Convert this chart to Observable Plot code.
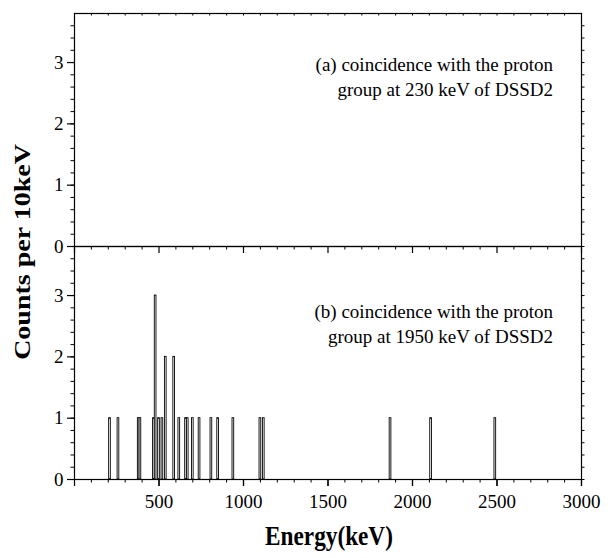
<!DOCTYPE html>
<html>
<head>
<meta charset="utf-8">
<script src="https://cdn.jsdelivr.net/npm/d3@7"></script>
<script src="https://cdn.jsdelivr.net/npm/@observablehq/plot@0.6"></script>
<style>
  html, body { margin: 0; padding: 0; background: white; }
  #wrap { position: relative; width: 613px; height: 558px; overflow: hidden; }
  #wrap svg, #wrap svg text { font-family: "Liberation Serif", "Times New Roman", serif !important; }
  .lab { position: absolute; font-family: "Liberation Serif", serif; font-weight: bold; font-size: 28px; line-height: 28px; white-space: nowrap; color: black; }
</style>
</head>
<body>
<div id="wrap"></div>
<script>
// Panel (b): histogram bins (bin centres, keV) and counts per 10 keV
const energies = [210, 260, 380, 390, 470, 480, 500, 520, 540, 590, 620, 660, 670, 700, 740, 810, 850, 940, 1100, 1120, 1870, 2110, 2490];
const counts   = [1,   1,   1,   1,   1,   3,   1,   1,   2,   2,   1,   1,   1,   1,   1,   1,   1,   1,   1,    1,    1,    1,    1];
// Panel (a): no counts
const energiesA = [];
const countsA = [];

const panels = ["a", "b"];
const panelLabels = [
  "(a) coincidence with the proton\ngroup at 230 keV of DSSD2",
  "(b) coincidence with the proton\ngroup at 1950 keV of DSSD2"
];
const xMajor = [500, 1000, 1500, 2000, 2500, 3000];
const xMajorAll = [0, 500, 1000, 1500, 2000, 2500, 3000];
const xMinor = d3.range(1, 30).map(i => i * 100).filter(v => v % 500 !== 0);
const yMajor = [0, 1, 2, 3];
const yMinor = d3.range(0, 19).map(i => i / 5);
const binWidth = 10;
const FONT = "Liberation Serif";

const bars = [
  ...energiesA.map((e, i) => ({energy: e, count: countsA[i], panel: "a"})),
  ...energies.map((e, i) => ({energy: e, count: counts[i], panel: "b"}))
];

const fmt = d => String(d);

const chart = Plot.plot({
  width: 613,
  height: 558,
  marginLeft: 74,
  marginRight: 32,
  marginTop: 12.5,
  marginBottom: 79,
  style: {fontFamily: FONT, fontSize: "19px", color: "black", background: "transparent"},
  x: {domain: [0, 3000]},
  y: {domain: [0, 3.8]},
  fy: {domain: panels, padding: 0, axis: null},
  marks: [
    Plot.rectY(bars, {
      x1: d => d.energy - binWidth / 2,
      x2: d => d.energy + binWidth / 2,
      y: "count",
      fy: "panel",
      fill: "white",
      stroke: "black",
      strokeWidth: 0.9
    }),
    Plot.frame({stroke: "black", strokeWidth: 1.2}),
    // left y axis
    Plot.axisY({ticks: yMajor, tickFormat: fmt, tickSize: 7, tickPadding: 4, fontSize: 19, fontFamily: FONT, label: null, strokeWidth: 1.2}),
    Plot.axisY({ticks: yMinor, tickSize: 3.5, fill: null, label: null}),
    // right y axis (outward minor ticks)
    Plot.axisY({anchor: "right", ticks: yMinor, tickSize: 2.5, fill: null, label: null}),
    // bottom x axis labels (bottom panel)
    Plot.axisX({anchor: "bottom", ticks: xMajor, tickFormat: fmt, tickSize: 7, tickPadding: 8, fontSize: 19, fontFamily: FONT, label: null, strokeWidth: 1.2}),
    // bottom-edge ticks for every panel
    Plot.axisX({anchor: "bottom", ticks: xMajorAll, tickSize: 7, fill: null, label: null, facetAnchor: null, strokeWidth: 1.2}),
    Plot.axisX({anchor: "bottom", ticks: xMinor, tickSize: 3.5, fill: null, label: null, facetAnchor: null}),
    // inward ticks along the top edge of the top panel
    Plot.axisX({anchor: "bottom", frameAnchor: "top", facetAnchor: "top", ticks: xMinor.concat(xMajor.slice(0, 5)), tickSize: 2.5, fill: null, label: null}),
    // panel annotations
    Plot.text([{t: panelLabels[0], panel: "a"}], {
      text: "t", fy: "panel", frameAnchor: "top-right", textAnchor: "end", lineAnchor: "top",
      dx: -28.5, dy: 40, fontSize: 19, fontFamily: FONT, lineHeight: 1.32
    }),
    Plot.text([{t: panelLabels[1], panel: "b"}], {
      text: "t", fy: "panel", frameAnchor: "top-right", textAnchor: "end", lineAnchor: "top",
      dx: -28.5, dy: 53.5, fontSize: 19, fontFamily: FONT, lineHeight: 1.32
    })
  ]
});

const wrap = document.getElementById("wrap");
wrap.appendChild(chart);

const yl = document.createElement("div");
yl.className = "lab";
yl.textContent = "Counts per 10keV";
yl.style.left = "23px";
yl.style.top = "251.5px";
yl.style.transform = "translate(-50%, -50%) scale(0.83, 1) rotate(-90deg)";
wrap.appendChild(yl);

const xl = document.createElement("div");
xl.className = "lab";
xl.textContent = "Energy(keV)";
xl.style.left = "329px";
xl.style.top = "521.5px";
xl.style.transform = "translateX(-50%) scale(0.83, 1)";
wrap.appendChild(xl);
</script>
</body>
</html>
